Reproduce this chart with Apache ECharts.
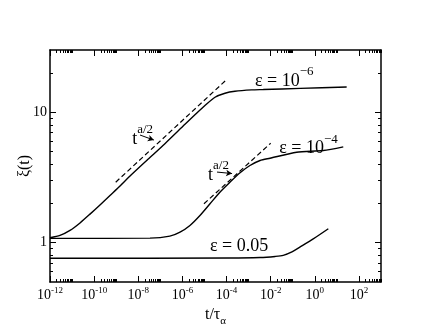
<!DOCTYPE html>
<html>
<head>
<meta charset="utf-8">
<script src="https://cdn.jsdelivr.net/npm/echarts@6/dist/echarts.min.js"></script>
<style>
  html, body { margin: 0; padding: 0; background: #fff; }
  #chart { width: 429px; height: 332px; }
</style>
</head>
<body>
<div id="chart"></div>
<script>
// xi(t) for eps = 1e-6, 1e-4, 0.05 : [t/tau_alpha, xi]
const eps6 = [
  [1e-12, 1.092], [2.84e-12, 1.137], [8.05e-12, 1.242], [2.29e-11, 1.418], [6.49e-11, 1.656],
  [1.84e-10, 1.947], [5.23e-10, 2.302], [1.49e-9, 2.722], [4.83e-9, 3.317], [2.75e-8, 4.36],
  [1.57e-7, 5.72], [1.31e-6, 8.08], [3.7e-6, 9.55], [1.05e-5, 11.25], [3.0e-5, 13.03],
  [8.5e-5, 13.98], [2.4e-4, 14.48], [1.38e-3, 14.84], [4.6e-3, 14.93], [0.22, 15.24], [27.8, 15.6]
];
const eps4 = [
  [1e-12, 1.079], [3.4e-8, 1.084], [2.7e-7, 1.123], [7.8e-7, 1.206], [2.2e-6, 1.357],
  [6.25e-6, 1.618], [1.78e-5, 1.989], [5.0e-5, 2.44], [1.43e-4, 2.911], [4.1e-4, 3.436],
  [1.15e-3, 3.908], [3.3e-3, 4.27], [9.3e-3, 4.445], [0.15, 4.94], [2.4, 5.09], [19.5, 5.43]
];
const eps005 = [
  [1e-12, 0.76], [1.4e-4, 0.763], [3.3e-3, 0.77], [1.6e-2, 0.785], [3.7e-2, 0.80],
  [9.2e-2, 0.85], [0.21, 0.925], [0.85, 1.07], [4.1, 1.28]
];
// t^(a/2) guides
const guide1 = [[9.5e-10, 2.91], [9.1e-5, 17.5]];
const guide2 = [[9.5e-6, 1.99], [1.0e-2, 5.79]];

const xMajor = [1e-12, 1e-10, 1e-8, 1e-6, 1e-4, 1e-2, 1, 1e2];
const yMajor = [1, 10];
const yMinor = [0.6, 0.7, 0.8, 0.9, 2, 3, 4, 5, 6, 7, 8, 9, 20];
// grace style minor ticks: 2..10 times each labelled decade
const xMinor = [];
xMajor.forEach(function (m) {
  for (let k = 2; k <= 10; k++) xMinor.push(k * m);
});

const labels = [
  { text: '{e|ε = 10}{s|−6}', at: [1.95e-3, 18.3] },
  { text: '{e|ε = 10}{s|−4}', at: [0.0245, 5.59] },
  { text: '{e|ε = 0.05}', at: [1.78e-5, 0.945] },
  { text: '{e|t}{s|a/2}', at: [5.3e-9, 6.63] },
  { text: '{e|t}{s|a/2}', at: [1.45e-5, 3.52] }
];
const arrows = [
  [[1.2e-8, 6.69], [5.1e-8, 6.12]],
  [[3.7e-5, 3.48], [1.78e-4, 3.39]]
];

const serif = 'Liberation Serif';
const black = '#000';

function expo(v) {
  return Math.round(Math.log10(v));
}

// one log axis; ticks only from customValues
function axis(pos, ticks, len, showLine, labels) {
  const isX = pos === 'bottom' || pos === 'top';
  return {
    type: 'log',
    logBase: 10,
    position: pos,
    min: isX ? 1e-12 : 0.5,
    max: isX ? 1e3 : 30,
    axisLine: { show: showLine, onZero: false, lineStyle: { color: black, width: 1.5 } },
    axisTick: ticks ? { show: true, inside: true, length: len, customValues: ticks,
      lineStyle: { color: black, width: 1 } } : { show: false },
    axisLabel: labels || { show: false },
    splitLine: { show: false },
    minorTick: { show: false }
  };
}

const xLabel = {
  show: true, customValues: xMajor,
  margin: 4, fontFamily: serif, color: black,
  formatter: function (v) { return '{b|10}{s|' + expo(v) + '}'; },
  rich: {
    b: { fontSize: 14, fontFamily: serif, color: black, verticalAlign: 'bottom' },
    s: { fontSize: 9, fontFamily: serif, color: black, padding: [0, 0, 7, 0] }
  }
};
const yLabel = {
  show: true, customValues: yMajor,
  margin: 3, fontFamily: serif, fontSize: 14, color: black,
  formatter: function (v) { return String(v); }
};

const xBottom = axis('bottom', null, 0, true, xLabel);
xBottom.name = '{a|t/τ}{b|α}';
xBottom.nameLocation = 'middle';
xBottom.nameGap = 22;
xBottom.nameTextStyle = {
  rich: {
    a: { fontSize: 16, fontFamily: serif, color: black, verticalAlign: 'top' },
    b: { fontSize: 11, fontFamily: serif, color: black, padding: [9, 0, 0, 0] }
  }
};
const yLeft = axis('left', null, 0, true, yLabel);
yLeft.name = 'ξ(t)';
yLeft.nameLocation = 'middle';
yLeft.nameGap = 17;
yLeft.nameMoveOverlap = false;
yLeft.nameTextStyle = { fontSize: 16, fontFamily: serif, color: black };

const curveStyle = { color: black, width: 1.4 };
const dashStyle = { color: black, width: 1.2, type: [5, 3] };

function curve(data) {
  return {
    type: 'line', data: data, xAxisIndex: 0, yAxisIndex: 0,
    showSymbol: false, smooth: 0.25, lineStyle: curveStyle, silent: true
  };
}
function guide(data) {
  return {
    type: 'line', data: data, xAxisIndex: 0, yAxisIndex: 0,
    showSymbol: false, lineStyle: dashStyle, silent: true
  };
}

const chart = echarts.init(document.getElementById('chart'));

const arrowSeries = {
  type: 'line', data: [], xAxisIndex: 0, yAxisIndex: 0, silent: true,
  markLine: {
    silent: true, symbol: ['none', 'arrow'], symbolSize: [5, 6],
    label: { show: false },
    lineStyle: { color: black, width: 1, type: 'solid' },
    data: arrows.map(function (a) { return [{ coord: a[0] }, { coord: a[1] }]; })
  }
};

chart.setOption({
  animation: false,
  backgroundColor: '#fff',
  grid: { left: 50, right: 48, top: 50, bottom: 50, containLabel: false },
  xAxis: [
    xBottom,
    axis('bottom', xMajor, 6, false, null),
    axis('bottom', xMinor, 3, false, null),
    axis('top', xMajor, 6, true, null),
    axis('top', xMinor, 3, false, null)
  ],
  yAxis: [
    yLeft,
    axis('left', yMajor, 6, false, null),
    axis('left', yMinor, 3, false, null),
    axis('right', yMajor, 6, true, null),
    axis('right', yMinor, 3, false, null)
  ],
  series: [
    curve(eps6), curve(eps4), curve(eps005),
    guide(guide1), guide(guide2),
    arrowSeries
  ]
});

// annotations placed from data coordinates
const textRich = {
  e: { fontSize: 18, fontFamily: serif, color: black, verticalAlign: 'bottom' },
  s: { fontSize: 13, fontFamily: serif, color: black, padding: [0, 0, 12, 0] }
};
chart.setOption({
  graphic: labels.map(function (l) {
    const p = chart.convertToPixel({ seriesIndex: 0 }, l.at);
    return {
      type: 'text', x: p[0], y: p[1], silent: true,
      style: { text: l.text, rich: textRich, verticalAlign: 'middle', align: 'left', fill: black }
    };
  })
});
</script>
</body>
</html>
